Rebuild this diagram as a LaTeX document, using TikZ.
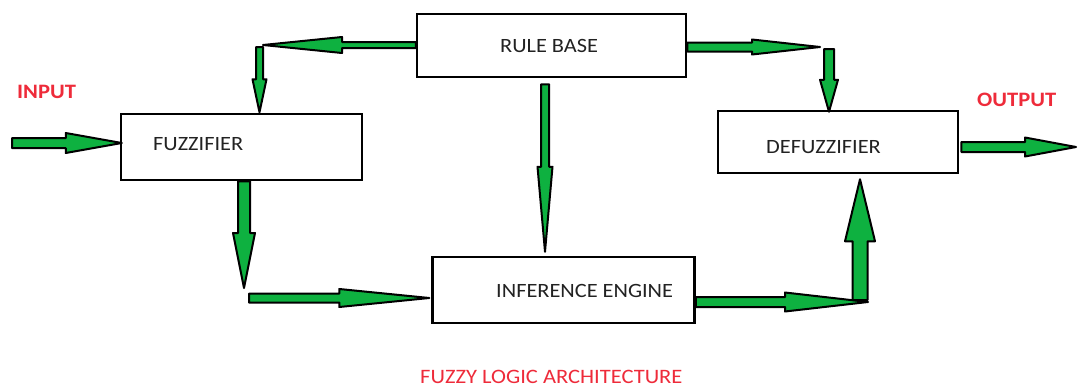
\documentclass[tikz,border=0pt]{standalone}
\usepackage{fontspec}
\setmainfont{Carlito}[FakeStretch=1.1]
\usetikzlibrary{calc,positioning}
\definecolor{arrowgreen}{RGB}{14,177,64}
\definecolor{labelred}{RGB}{238,43,58}
\definecolor{textgray}{RGB}{34,34,34}
\tikzset{
	block/.style={draw, line width=2.5pt, fill=white, inner sep=0pt}
}
\tikzset{
	blocktext/.style={font=\fontsize{20.3}{23}\selectfont\color{textgray}, anchor=west, inner sep=0pt},
	redtext/.style={font=\fontsize{20.5}{23}\selectfont\color{labelred}, anchor=west, inner sep=0pt},
	redbold/.style={redtext, font=\fontsize{20.5}{23}\selectfont\bfseries\color{labelred}},
	fatarr/.style={draw=black, fill=arrowgreen, line width=2pt, line join=round}
}
% from, to, shaft half width, head half width, head length
\newcommand{\fatarrow}[5]{%
  \coordinate (hb) at ($(#2)!#5pt!(#1)$);
  \draw[fatarr] ($(#1)!#3pt!90:(#2)$) -- ($(hb)!#3pt!90:(#2)$) -- ($(hb)!#4pt!90:(#2)$)
    -- (#2) -- ($(hb)!#4pt!-90:(#2)$) -- ($(hb)!#3pt!-90:(#2)$) -- ($(#1)!#3pt!-90:(#2)$) -- cycle;
}

\begin{document}
\begin{tikzpicture}[x=1pt, y=-1pt]
  \useasboundingbox (0,0) rectangle (1078,388);

  % blocks
  \node[block, minimum width=269pt, minimum height=63pt] (rule) at (551.5,45.5) {};
  \node[block, minimum width=241pt, minimum height=66pt] (fuzz) at (241.5,147) {};
  \node[block, minimum width=240pt, minimum height=62pt] (defuzz) at (838,142) {};
  \node[block, minimum width=262pt, minimum height=66pt] (infer) at (563.5,290) {};

  \node[blocktext] (ruletxt) at (500,46) {RULE BASE};
  \node[blocktext] (fuzztxt) at (153,144) {FUZZIFIER};
  \node[blocktext] (defuzztxt) at (766,147) {DEFUZZIFIER};
  \node[blocktext] (infertxt) at (496,291) {INFERENCE ENGINE};

  \node[redbold] (input) at (17,92) {INPUT};
  \node[redbold] (output) at (977,100) {OUTPUT};
  \node[redtext] (title) at (420,377) {FUZZY LOGIC ARCHITECTURE};

  % connector ends
  \coordinate (instart) at (12,143);
  \coordinate (inend) at ($(fuzz.west)+(2,-4)$);
  \coordinate (ruleL) at ($(rule.west)+(0,-0.5)$);
  \coordinate (elbowL) at (263,45);
  \coordinate (downLs) at (259.5,47);
  \coordinate (downLe) at ($(fuzz.north)+(18,-0.5)$);
  \coordinate (ruleR) at ($(rule.east)+(0,1.5)$);
  \coordinate (elbowR) at (820,47);
  \coordinate (downRs) at (829,49);
  \coordinate (downRe) at ($(defuzz.north)+(-9,2)$);
  \coordinate (fuzzdown) at ($(fuzz.south)+(2.5,0)$);
  \coordinate (elbowF) at (244,288);
  \coordinate (toinfs) at (249,298);
  \coordinate (toinfe) at ($(infer.west)+(-2,8)$);
  \coordinate (ruledown) at ($(rule.south)+(-6.5,6)$);
  \coordinate (infdown) at ($(infer.north)+(-18.5,-4)$);
  \coordinate (infR) at ($(infer.east)+(0,12)$);
  \coordinate (elbowI) at (868,302);
  \coordinate (upIs) at (860,300);
  \coordinate (upIe) at ($(defuzz.south)+(22,5)$);
  \coordinate (outs) at ($(defuzz.east)+(2,5)$);
  \coordinate (oute) at (1076,147);

  % arrows
  \fatarrow{instart}{inend}{5}{10}{56}
  \fatarrow{ruleL}{elbowL}{3}{8}{79}
  \fatarrow{downLs}{downLe}{3.5}{7}{33}
  \fatarrow{ruleR}{elbowR}{4.5}{7.5}{68}
  \fatarrow{downRs}{downRe}{5}{9}{32}
  \fatarrow{fuzzdown}{elbowF}{6}{11}{55}
  \fatarrow{toinfs}{toinfe}{4.5}{9}{90}
  \fatarrow{ruledown}{infdown}{4}{7.5}{85}
  \fatarrow{infR}{elbowI}{5}{9.5}{83}
  \fatarrow{upIs}{upIe}{7.5}{15}{62}
  \fatarrow{outs}{oute}{5}{9.5}{51}
\end{tikzpicture}
\end{document}
